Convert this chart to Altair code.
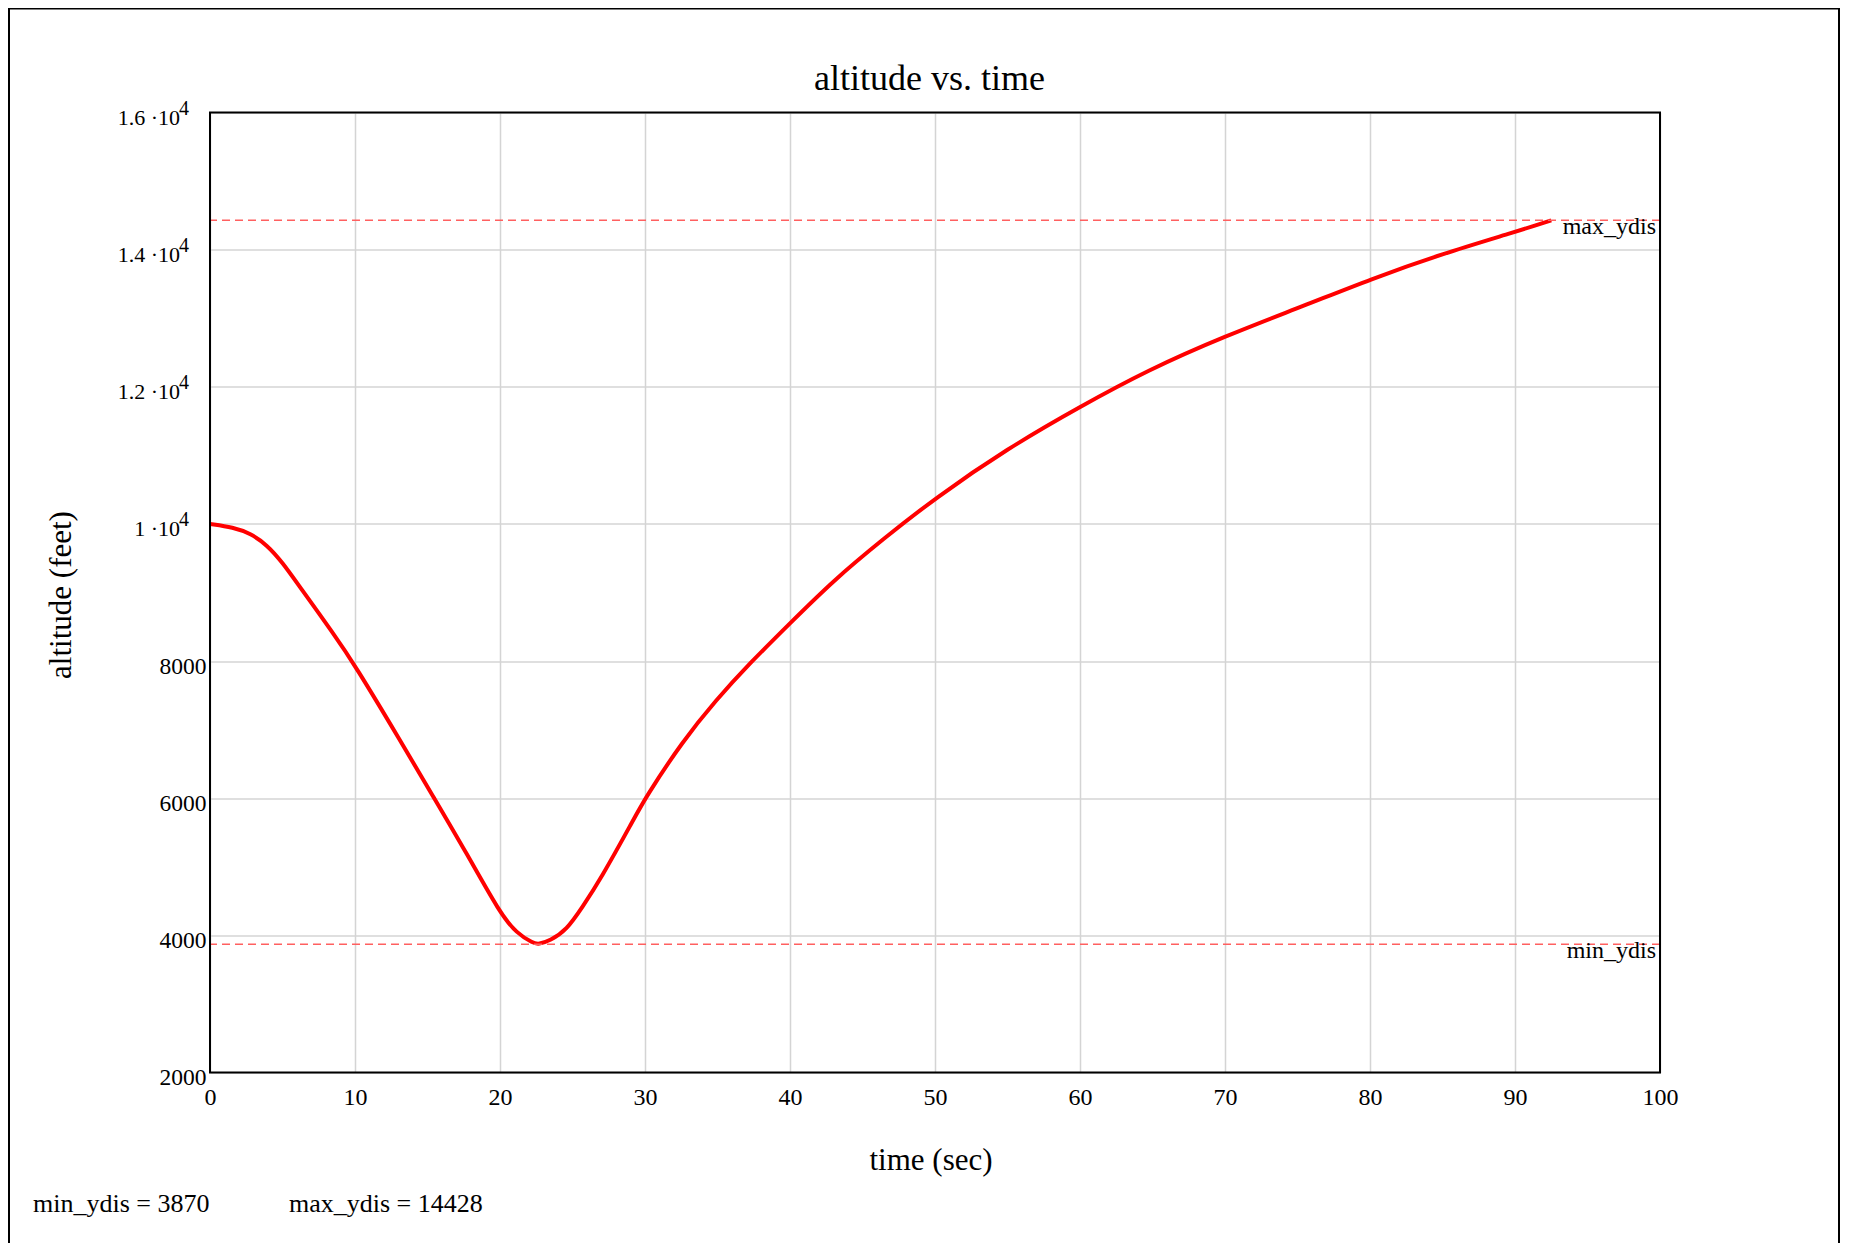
import altair as alt
import pandas as pd

# ---- data ----
TIME = [0, 1.6, 2.8, 3.9, 5.0, 6.2, 8.5, 10, 13.1, 15.4, 17.7, 20, 21.15, 22.3, 22.65,
        23.45, 24.6, 25.7, 26.9, 29.2, 30, 32.6, 34.9, 37.2, 40, 43, 46.4, 50,
        55, 60, 64.7, 69.9, 75.6, 80, 85.1, 89.9, 92.5]
ALTITUDE = [10000, 9950, 9860, 9700, 9440, 9080, 8405, 7940, 6849, 6022, 5197, 4322,
            4030, 3884, 3870, 3922, 4078, 4418, 4807, 5682, 6000, 6833, 7432, 7963,
            8552, 9177, 9776, 10375, 11100, 11710, 12245, 12731, 13193, 13567, 13947,
            14250, 14428]
MIN_YDIS = 3870
MAX_YDIS = 14428

X_TICKS = [0, 10, 20, 30, 40, 50, 60, 70, 80, 90, 100]
Y_TICKS = [2000, 4000, 6000, 8000, 10000, 12000, 14000, 16000]
Y_TICK_MAIN = ["2000", "4000", "6000", "8000", "1 ·10", "1.2 ·10", "1.4 ·10", "1.6 ·10"]
Y_TICK_SUP = ["", "", "", "", "4", "4", "4", "4"]

TITLE = "altitude vs. time"
X_TITLE = "time (sec)"
Y_TITLE = "altitude (feet)"

FONT = "Liberation Serif"

df = pd.DataFrame({"time": TIME, "alt": ALTITUDE})
lim = pd.DataFrame({"v": [MIN_YDIS, MAX_YDIS], "name": ["min_ydis", "max_ydis"]})
ticks = pd.DataFrame({"v": Y_TICKS, "main": Y_TICK_MAIN, "sup": Y_TICK_SUP})
sci_ticks = ticks[ticks["sup"] != ""]

# plain labels go on the axis; labels with a superscript are drawn as text marks
label_expr = " : ".join(
    f"datum.value == {v} ? '{m}'" for v, m, s in zip(Y_TICKS, Y_TICK_MAIN, Y_TICK_SUP)
    if s == ""
) + " : ''"

xscale = alt.Scale(domain=[0, 100], nice=False, zero=False)
yscale = alt.Scale(domain=[2000, 16000], nice=False, zero=False)

xaxis = alt.Axis(values=X_TICKS, grid=True, ticks=False, domain=False,
                 labelFont=FONT, labelFontSize=24, labelColor="black",
                 labelPadding=13, labelFlush=False, labelBaseline="top",
                 title=X_TITLE, titleFont=FONT, titleFontSize=31,
                 titleFontWeight="normal", titleColor="black",
                 titleBaseline="middle", titleY=88, titleX=720.5)
yaxis = alt.Axis(values=Y_TICKS, grid=True, ticks=False, domain=False,
                 labelExpr=label_expr, labelFont=FONT, labelFontSize=23.5,
                 labelColor="black", labelPadding=4, labelOffset=5, labelFlush=False,
                 title=Y_TITLE, titleFont=FONT, titleFontSize=31,
                 titleFontWeight="normal", titleColor="black",
                 titleBaseline="middle", titleX=-149, titleY=482, titleAngle=270)

curve = alt.Chart(df).mark_line(color="#ff0000", strokeWidth=4,
                                interpolate="basis").encode(
    x=alt.X("time:Q", scale=xscale, axis=xaxis),
    y=alt.Y("alt:Q", scale=yscale, axis=yaxis),
)

rules = alt.Chart(lim).mark_rule(color="#ff6060", strokeWidth=1.5,
                                 strokeDash=[8, 5]).encode(
    y=alt.Y("v:Q", scale=yscale, axis=yaxis)
)

rule_labels = alt.Chart(lim).mark_text(font=FONT, fontSize=24, align="right",
                                       baseline="alphabetic", dx=-4, dy=14,
                                       color="black").encode(
    x=alt.datum(100, scale=xscale),
    y=alt.Y("v:Q", scale=yscale, axis=yaxis),
    text="name:N",
)

sci_main = alt.Chart(sci_ticks).mark_text(font=FONT, fontSize=22, align="right",
                                          baseline="alphabetic", dy=12,
                                          color="black").encode(
    x=alt.value(-30),
    y=alt.Y("v:Q", scale=yscale, axis=yaxis),
    text="main:N",
)
sci_sup = alt.Chart(sci_ticks).mark_text(font=FONT, fontSize=20, align="left",
                                         baseline="alphabetic", dy=2,
                                         color="black").encode(
    x=alt.value(-31),
    y=alt.Y("v:Q", scale=yscale, axis=yaxis),
    text="sup:N",
)

dummy = alt.Data(values=[{}])
plot_frame = alt.Chart(dummy).mark_rect(filled=False, stroke="black",
                                        strokeWidth=2).encode(
    x=alt.value(0), x2=alt.value(1450), y=alt.value(0), y2=alt.value(960))
frame_v = alt.Chart(dummy).mark_rule(color="black", strokeWidth=2).encode(
    x=alt.value(-201), y=alt.value(-104), y2=alt.value(1140))
frame_r = alt.Chart(dummy).mark_rule(color="black", strokeWidth=2).encode(
    x=alt.value(1629), y=alt.value(-104), y2=alt.value(1140))
frame_t = alt.Chart(dummy).mark_rule(color="black", strokeWidth=2).encode(
    x=alt.value(-202), x2=alt.value(1630), y=alt.value(-104))

title_txt = alt.Chart(dummy).mark_text(font=FONT, fontSize=36, align="center",
                                       baseline="alphabetic", color="black").encode(
    x=alt.value(719.5), y=alt.value(-23), text=alt.value(TITLE))

bottom_min = alt.Chart(dummy).mark_text(font=FONT, fontSize=26, align="left",
                                        baseline="alphabetic", color="black").encode(
    x=alt.value(-177), y=alt.value(1099.5), text=alt.value(f"min_ydis = {MIN_YDIS}"))
bottom_max = alt.Chart(dummy).mark_text(font=FONT, fontSize=26, align="left",
                                        baseline="alphabetic", color="black").encode(
    x=alt.value(79), y=alt.value(1099.5), text=alt.value(f"max_ydis = {MAX_YDIS}"))

chart = alt.layer(curve, rules, rule_labels, sci_main, sci_sup, plot_frame,
                  frame_v, frame_r, frame_t, title_txt, bottom_min,
                  bottom_max).properties(
    width=1450, height=960,
    autosize=alt.AutoSizeParams(type="none"),
    padding={"left": 202, "top": 104.5, "right": 180, "bottom": 170},
).configure(background="white").configure_view(
    stroke=None
).configure_axis(gridColor="#d4d4d4", gridWidth=1.5)

chart.save("out.html", embed_options={"renderer": "svg", "actions": False})
